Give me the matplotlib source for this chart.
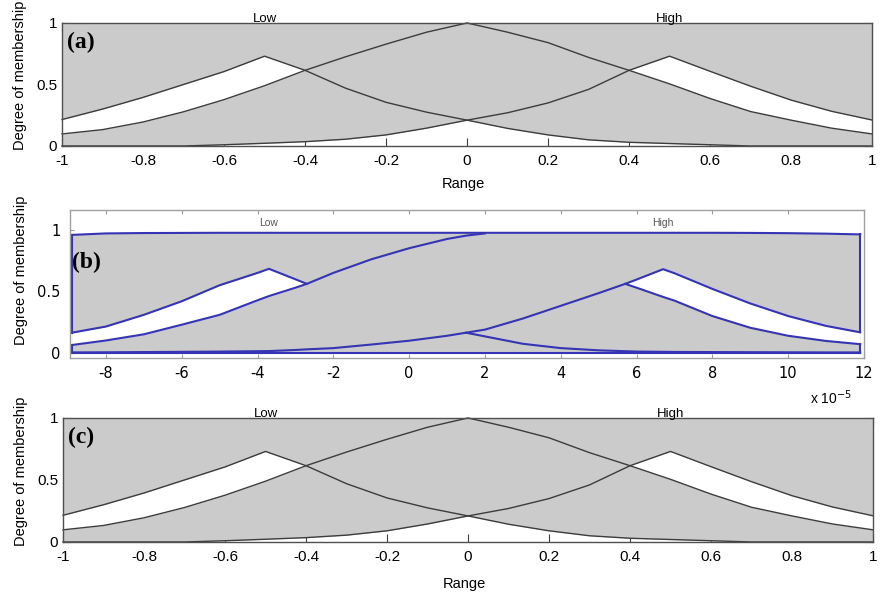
import numpy as np
import matplotlib.pyplot as plt

plt.rcParams['font.family'] = ['Liberation Sans', 'DejaVu Sans']

# (a), (c): normalised range
x_norm = [-1.0, -0.9, -0.8, -0.7, -0.6, -0.5, -0.4, -0.3, -0.2, -0.1, 0.0,
          0.1, 0.2, 0.3, 0.4, 0.5, 0.6, 0.7, 0.8, 0.9, 1.0]
low_norm = [0.215, 0.30, 0.395, 0.50, 0.605, 0.73, 0.615, 0.47, 0.355, 0.275, 0.21,
            0.143, 0.09, 0.05, 0.03, 0.02, 0.01, 0.0, 0.0, 0.0, 0.0]
mid_norm = [0.098, 0.133, 0.195, 0.278, 0.377, 0.49, 0.615, 0.725, 0.828, 0.925, 1.0,
            0.925, 0.84, 0.72, 0.615, 0.505, 0.386, 0.28, 0.21, 0.145, 0.098]
high_norm = [0.0, 0.0, 0.0, 0.0, 0.01, 0.022, 0.035, 0.055, 0.09, 0.145, 0.21,
             0.27, 0.35, 0.46, 0.615, 0.73, 0.607, 0.486, 0.373, 0.282, 0.211]
norm_ticks = [-1, -0.8, -0.6, -0.4, -0.2, 0, 0.2, 0.4, 0.6, 0.8, 1]
norm_ticklabels = ['-1', '-0.8', '-0.6', '-0.4', '-0.2', '0', '0.2', '0.4', '0.6', '0.8', '1']

# (b): range in units of 1e-5, nan = part of the curve not drawn
nan = np.nan
x_b = [-8.9, -8, -7, -6, -5, -4, -3.7, -3, -2.7, -2, -1, 0, 1, 1.5, 2,
       3, 4, 5, 5.7, 6, 6.7, 7, 8, 9, 10, 11, 11.9]
low_b = [0.165, 0.215, 0.31, 0.42, 0.55, 0.65, 0.683, 0.598, 0.561, nan, nan, nan, nan, 0.165, 0.135,
         0.075, 0.04, 0.022, 0.015, 0.012, 0.01, 0.009, 0.008, 0.007, 0.006, 0.005, 0.005]
mid_b = [0.065, 0.102, 0.152, 0.23, 0.31, 0.428, 0.462, 0.53, 0.561, 0.65, 0.76, 0.85, 0.925, 0.952, 0.97,
         nan, nan, nan, 0.561, 0.53, 0.455, 0.425, 0.30, 0.205, 0.14, 0.098, 0.072]
high_b = [0.005, 0.006, 0.008, 0.01, 0.012, 0.015, 0.016, 0.025, 0.03, 0.04, 0.069, 0.10, 0.14, 0.165, 0.19,
          0.28, 0.383, 0.486, 0.561, 0.596, 0.68, 0.647, 0.52, 0.402, 0.30, 0.22, 0.168]
top_b = [0.958, 0.97, 0.973, 0.974, 0.975, 0.975, 0.975, 0.975, 0.975, 0.975, 0.975, 0.975, 0.975, 0.975, 0.975,
         0.975, 0.975, 0.975, 0.975, 0.975, 0.975, 0.975, 0.975, 0.974, 0.972, 0.968, 0.962]
b_ticks = [-8, -6, -4, -2, 0, 2, 4, 6, 8, 10, 12]

membership_ticks = [0, 0.5, 1]
membership_ticklabels = ['0', '0.5', '1']

GRAY = '#cbcbcb'
LINE_GRAY = '#3c3c3c'
BLUE = '#3434b4'


def norm_panel(fig, rect, tag, xlabel_y, ylabel_y):
    x = np.array(x_norm)
    low = np.array(low_norm)
    mid = np.array(mid_norm)
    high = np.array(high_norm)

    ax = fig.add_axes(rect)
    ax.set_axisbelow(True)
    ax.fill_between(x, np.minimum(low, high), 1, color=GRAY, lw=0, zorder=1)
    ax.fill_between(x, mid, low, where=low >= mid, color='white', lw=0, zorder=1.5)
    ax.fill_between(x, mid, high, where=high >= mid, color='white', lw=0, zorder=1.5)
    for y in (low, mid, high):
        ax.plot(x, y, color=LINE_GRAY, lw=1.0, zorder=2, clip_on=False)

    ax.set_xlim(x[0], x[-1])
    ax.set_ylim(0, 1)
    ax.set_xticks(norm_ticks, norm_ticklabels)
    ax.set_yticks(membership_ticks, membership_ticklabels)
    ax.tick_params(direction='in', length=6, color=LINE_GRAY, labelsize=11,
                   top=True, right=True)
    ax.tick_params(axis='x', pad=5.5)
    ax.tick_params(axis='y', pad=3.5)
    for sp in ax.spines.values():
        sp.set_color('#505050')
        sp.set_linewidth(1.0)

    for name, y in (('Low', low), ('High', high)):
        ax.annotate(name, xy=(x[np.argmax(y)], 1), xycoords=('data', 'axes fraction'),
                    xytext=(0, 1), textcoords='offset points',
                    ha='center', va='baseline', fontsize=9.5)

    ax.text(0.006, 0.93, tag, transform=ax.transAxes, ha='left', va='top',
            fontsize=17, fontweight='bold', family='Liberation Serif', zorder=5)
    ax.set_xlabel('Range', fontsize=10.5)
    ax.xaxis.set_label_coords(0.495, xlabel_y)
    ax.set_ylabel('Degree of membership', fontsize=10.5)
    ax.yaxis.set_label_coords(-0.043, ylabel_y)
    return ax


fig = plt.figure(figsize=(8.8, 5.92), dpi=100)

norm_panel(fig, [0.0705, 0.7534, 0.9205, 0.2078], '(a)', -0.25, 0.577)
norm_panel(fig, [0.0716, 0.0845, 0.9205, 0.2095], '(c)', -0.28, 0.57)

# (b)
xb = np.array(x_b)
low = np.array(low_b)
mid = np.array(mid_b)
high = np.array(high_b)
top = np.array(top_b)

ax = fig.add_axes([0.0795, 0.3953, 0.9023, 0.25])
ax.set_axisbelow(True)
ax.fill_between(xb, 0, top, color=GRAY, lw=0, zorder=1)
with np.errstate(invalid='ignore'):
    ax.fill_between(xb, mid, low, where=low >= mid, color='white', lw=0, zorder=1.5)
    ax.fill_between(xb, mid, high, where=high >= mid, color='white', lw=0, zorder=1.5)
for y in (low, mid, high, top, np.zeros_like(xb)):
    ax.plot(xb, y, color=BLUE, lw=1.5, zorder=2)
for i, upper in ((0, low), (-1, high)):
    ax.plot([xb[i], xb[i]], [0, mid[i]], color=BLUE, lw=1.5, zorder=2)
    ax.plot([xb[i], xb[i]], [upper[i], top[i]], color=BLUE, lw=1.5, zorder=2)

ax.set_xlim(-8.95, 12)
ax.set_ylim(-0.04, 1.16)
ax.set_xticks(b_ticks, [str(t) for t in b_ticks])
ax.set_yticks(membership_ticks, membership_ticklabels)
ax.tick_params(direction='in', length=3, color='#999999', top=True, right=False)
ax.tick_params(axis='x', pad=6, labelsize=10.5, labelfontfamily='DejaVu Sans')
ax.tick_params(axis='y', pad=7, labelsize=10.5, labelfontfamily='DejaVu Sans')
for sp in ax.spines.values():
    sp.set_color('#a0a0a0')
    sp.set_linewidth(1.0)

for name, y in (('Low', low), ('High', high)):
    ax.annotate(name, xy=(xb[np.nanargmax(y)], 0.91), xycoords=('data', 'axes fraction'),
                ha='center', va='center', fontsize=7.5, color='#555555')

ax.text(0.003, 0.72, '(b)', transform=ax.transAxes, ha='left', va='top',
        fontsize=17, fontweight='bold', family='Liberation Serif', zorder=5)
ax.text(0.985, -0.27, r'x 10$^{-5}$', transform=ax.transAxes, ha='right', va='center',
        fontsize=10)
ax.set_ylabel('Degree of membership', fontsize=10.5)
ax.yaxis.set_label_coords(-0.053, 0.59)

fig.savefig('out.png', dpi=100)
